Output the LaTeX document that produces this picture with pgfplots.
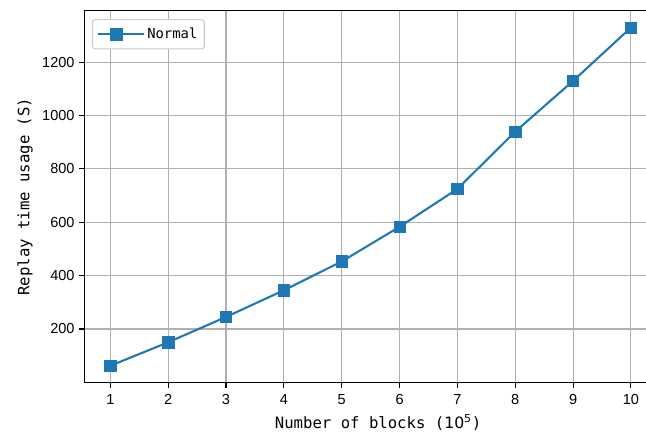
\documentclass[border=0pt]{standalone}
\usepackage{fontspec}
\setmainfont{Liberation Sans}
\newfontfamily\monofont{DejaVu Sans Mono}
\newfontfamily\dvs{DejaVu Sans}
\usepackage{pgfplots}
\pgfplotsset{compat=1.18}
\definecolor{c0}{HTML}{1F77B4}
\definecolor{gridc}{HTML}{B0B0B0}
\definecolor{legc}{HTML}{CCCCCC}
\begin{document}
\begin{tikzpicture}
\begin{axis}[
  scale only axis, width=412.3bp, height=267.8bp,
  xmin=0.55, xmax=10.45, ymin=-1.4, ymax=1393.4,
  xtick={1,2,...,10}, ytick={200,400,...,1200},
  tick pos=left, tick align=outside,
  major tick length=3.5bp,
  tick style={black, line width=0.8bp},
  axis line style={black, line width=0.8bp},
  grid=major, grid style={gridc, line width=0.8bp},
  /pgf/number format/assume math mode=true,
  /pgf/number format/1000 sep={},
  tick label style={font=\fontsize{10.5}{12}\selectfont},
  xticklabel style={yshift=-1.5bp},
  xlabel={{\monofont Number of blocks (}{\dvs 10\textsuperscript{5}}{\monofont )}},
  ylabel={\monofont Replay time usage (S)},
  every axis x label/.style={at={(axis description cs:0.513,0)}, anchor=center, yshift=-28.6bp, font=\fontsize{11.3}{13}\selectfont},
  every axis y label/.style={at={(axis description cs:0,0.5)}, xshift=-42.7bp, rotate=90, anchor=center, font=\fontsize{11.3}{13}\selectfont},
  legend style={at={(axis description cs:0.0133,0.9776)}, anchor=north west,
    draw=legc, line width=0.8bp, rounded corners=2bp, fill=white,
    font=\monofont\fontsize{10}{12}\selectfont, inner xsep=3bp, inner ysep=4bp},
  legend image code/.code={\draw[mark repeat=2, mark phase=2] plot coordinates {(0bp,0bp) (13.3bp,0bp) (26.6bp,0bp)};
    \path (0bp,0bp) -- (33bp,0bp);},
]
\addplot[c0, line width=1.5bp, mark=square*, mark size=4.1bp, mark options={solid, fill=c0, line width=0.5bp}]
  coordinates {(1,62) (2,150) (3,245) (4,345) (5,453) (6,583) (7,725) (8,940) (9,1130) (10,1330)};
\addlegendentry{Normal}
\end{axis}
\pgfresetboundingbox
\path[use as bounding box] (-60.7bp,-36.5bp) rectangle (404.4bp,275.5bp);
\end{tikzpicture}
\end{document}
